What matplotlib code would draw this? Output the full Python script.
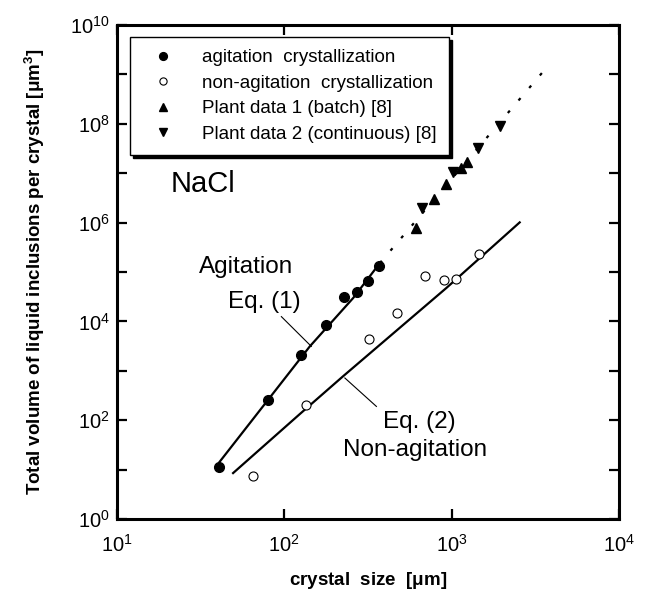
import matplotlib
matplotlib.use("Agg")
import matplotlib.pyplot as plt
import numpy as np

plt.rcParams["font.family"] = ["Liberation Sans", "DejaVu Sans"]
plt.rcParams["mathtext.default"] = "regular"

# 数据
agit_size = [40.8, 79.4, 125, 177, 227, 270, 316, 368]
agit_vol = [11.1, 251, 2090, 8570, 31000, 38600, 64500, 134000]

nonagit_size = [64.6, 134, 321, 474, 697, 896, 1066, 1449]
nonagit_vol = [7.3, 206, 4400, 14800, 82200, 68200, 73200, 235000]

plant1_size = [610, 784, 929, 1143, 1240]
plant1_vol = [7.89e5, 3.0e6, 5.98e6, 1.28e7, 1.71e7]

plant2_size = [662, 1014, 1435, 1954]
plant2_vol = [2.0e6, 1.06e7, 3.28e7, 9.2e7]

# Eq.(1) 拟合线 / 外推虚线
eq1_size = [40.8, 79.4, 142, 258, 372]
eq1_vol = [14.0, 251, 3120, 29800, 151000]
eq1_ext_size = [372, 3846]
eq1_ext_vol = [151000, 1.62e9]

# Eq.(2) 拟合线
eq2_size = [49.4, 124, 224, 929, 2550]
eq2_vol = [8.5, 134, 771, 47400, 1.01e6]

legend_labels = [
    "agitation  crystallization",
    "non-agitation  crystallization",
    "Plant data 1 (batch) [8]",
    "Plant data 2 (continuous) [8]",
]

fig = plt.figure(figsize=(6.52, 6.03), dpi=100)
ax = fig.add_axes([117 / 652, 1 - 519 / 603, 502 / 652, 494 / 603])

ax.plot(eq1_size, eq1_vol, color="black", lw=1.6, zorder=2)
ax.plot(eq1_ext_size, eq1_ext_vol, color="black", lw=1.6,
        linestyle=(0, (1.4, 6.0)), zorder=2)
ax.plot(eq2_size, eq2_vol, color="black", lw=1.6, zorder=2)

h1, = ax.plot(agit_size, agit_vol, "o", color="black", ms=7,
              label=legend_labels[0], zorder=3)
h2, = ax.plot(nonagit_size, nonagit_vol, "o", mfc="white", mec="black",
              mew=0.8, ms=6.5, label=legend_labels[1], zorder=3)
h3, = ax.plot(plant1_size, plant1_vol, "^", color="black", ms=7,
              label=legend_labels[2], zorder=3)
h4, = ax.plot(plant2_size, plant2_vol, "v", color="black", ms=7,
              label=legend_labels[3], zorder=3)

ax.set_xscale("log")
ax.set_yscale("log")
ax.set_xlim(10, 1e4)
ax.set_ylim(1, 1e10)

xt = [10, 100, 1000, 10000]
ax.set_xticks(xt)
ax.set_xticklabels([f"$10^{{{int(np.log10(v))}}}$" for v in xt])
yt = [10.0 ** k for k in range(0, 11)]
ax.set_yticks(yt)
ax.set_yticklabels([f"$10^{{{k}}}$" if k % 2 == 0 else "" for k in range(0, 11)])
ax.minorticks_off()

ax.tick_params(direction="in", length=7, width=1.6, labelsize=14.5,
               top=True, right=True)
ax.tick_params(axis="x", pad=11)
ax.tick_params(axis="y", pad=5)
for sp in ax.spines.values():
    sp.set_linewidth(2.2)

ax.set_xlabel("crystal  size  [$\\mu$m]", fontsize=13.5, fontweight="bold",
              labelpad=10)
ax.set_ylabel("Total volume of liquid inclusions per crystal [$\\mu$m$^3$]",
              fontsize=13.5, fontweight="bold", labelpad=17)

# 标注文字
ax.text(30.9, 1.28e5, "Agitation", fontsize=17.5, va="center", ha="left")
ax.text(46, 2.5e4, "Eq. (1)", fontsize=17.5, va="center", ha="left")
ax.text(387, 91, "Eq. (2)", fontsize=17.5, va="center", ha="left")
ax.text(223, 24.5, "Non-agitation", fontsize=17.5, va="center", ha="left")
ax.text(21, 6.0e6, "NaCl", fontsize=21, va="center", ha="left")

# 引线
ax.plot([96, 145], [1.25e4, 3120], color="black", lw=0.8)
ax.plot([230, 355], [715, 190], color="black", lw=0.8)

leg = ax.legend(handles=[h1, h2, h3, h4], loc="upper left",
                bbox_to_anchor=(0.026, 0.976), borderaxespad=0,
                fontsize=13.5, frameon=True, fancybox=False,
                edgecolor="black", framealpha=1, handlelength=2.2,
                handletextpad=1.0, labelspacing=0.45, borderpad=0.65,
                markerscale=0.8,
                shadow={"facecolor": "black", "edgecolor": "black", "alpha": 1})
leg.get_frame().set_linewidth(1.0)

fig.savefig("out.png", dpi=100)
